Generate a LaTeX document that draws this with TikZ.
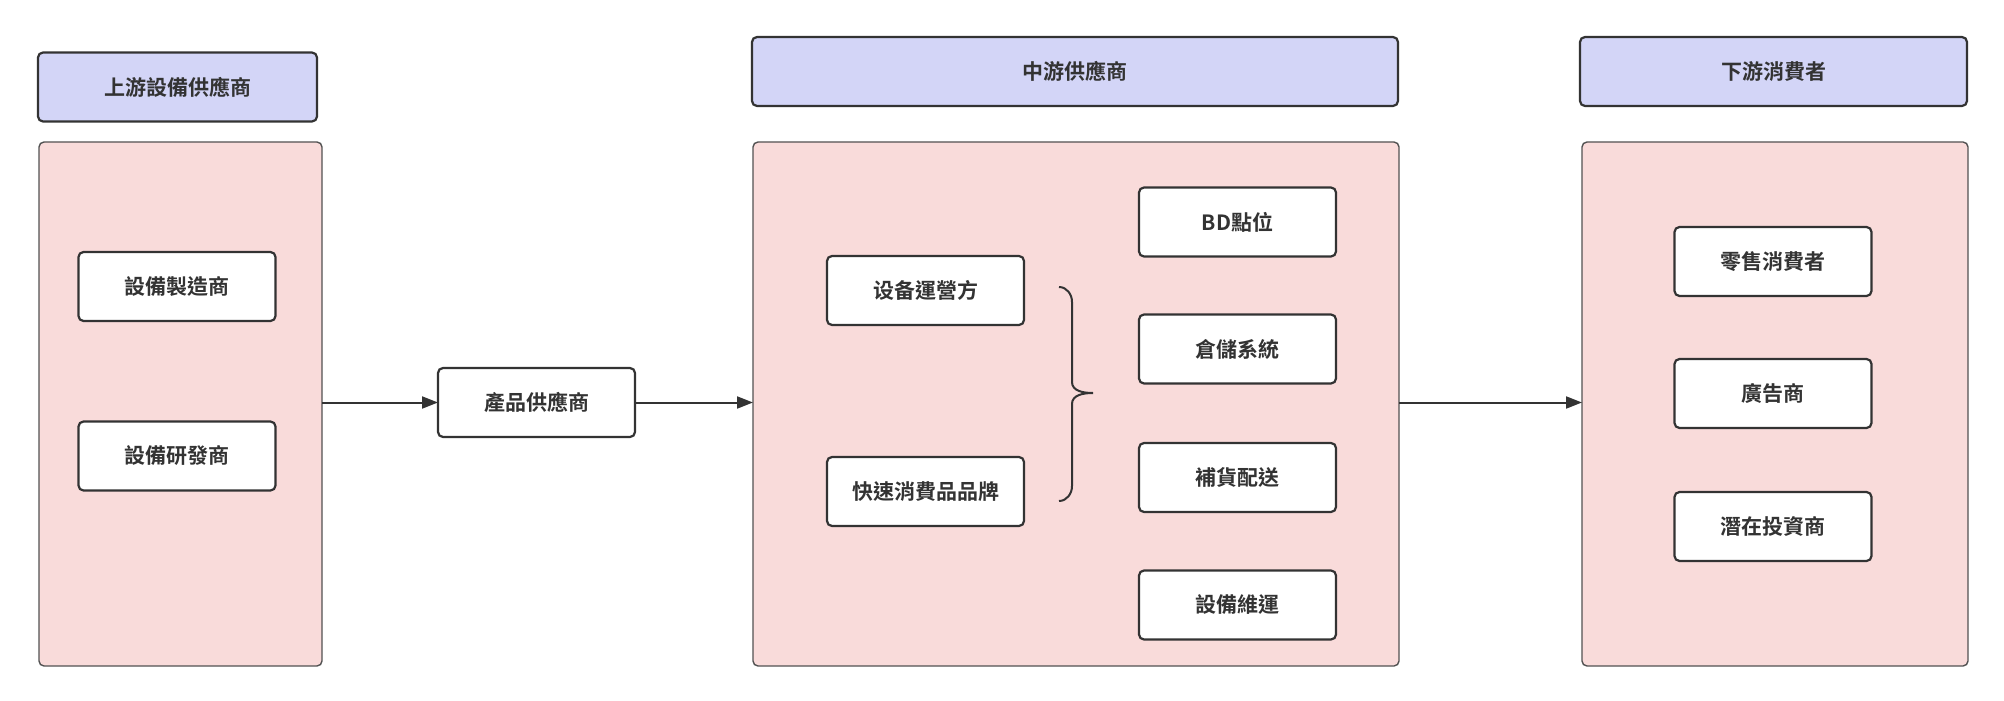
\documentclass[tikz,border=0pt]{standalone}
\usepackage{fontspec}
\setmainfont{Noto Sans CJK TC}[BoldFont={Noto Sans CJK TC Bold}]
\usetikzlibrary{arrows.meta}
\definecolor{hdrfill}{HTML}{D3D5F7}
\definecolor{pinkfill}{HTML}{F9DBDA}
\definecolor{edge}{HTML}{333333}
\definecolor{txt}{HTML}{333333}
\tikzset{
  base/.style={rectangle, rounded corners=2.5pt, inner sep=0pt, outer sep=0pt, text=txt,
    font=\fontsize{10.5pt}{12pt}\selectfont\bfseries},
  hdr/.style={base, draw=edge, line width=1.1pt, fill=hdrfill, minimum height=34.5pt},
  panel/.style={base, draw=edge!85, line width=0.7pt, fill=pinkfill, minimum height=262pt},
  item/.style={base, draw=edge, line width=1.1pt, fill=white, minimum width=98.5pt, minimum height=34.5pt},
  conn/.style={draw=edge, line width=1pt, -{Triangle[length=8pt,width=6pt]}},
}
\begin{document}
\begin{tikzpicture}[x=0.5pt,y=-0.5pt]
\useasboundingbox (0,0) rectangle (2004,701);
% headers
\node[hdr, minimum width=139.5pt] (h1) at (177.5,87) {上游設備供應商};
\node[hdr, minimum width=323pt] (h2) at (1075,71.5) {中游供應商};
\node[hdr, minimum width=193.5pt] (h3) at (1773.5,71.5) {下游消費者};
% panels
\node[panel, minimum width=141.5pt] (p1) at (180.5,404) {};
\node[panel, minimum width=323pt] (p2) at (1076,404) {};
\node[panel, minimum width=193pt] (p3) at (1775,404) {};
% left items
\node[item] (a1) at (177,286.5) {設備製造商};
\node[item] (a2) at (177,456) {設備研發商};
\node[item] (prod) at (536.5,402.5) {產品供應商};
% middle items
\node[item] (m1) at (925.5,290.5) {设备運營方};
\node[item] (m2) at (925.5,491.5) {快速消費品品牌};
\node[item] (r1) at (1237.5,222) {BD點位};
\node[item] (r2) at (1237.5,349) {倉儲系統};
\node[item] (r3) at (1237.5,477.5) {補貨配送};
\node[item] (r4) at (1237.5,605) {設備維運};
% right items
\node[item] (d1) at (1773,261.5) {零售消費者};
\node[item] (d2) at (1773,393.5) {廣告商};
\node[item] (d3) at (1773,526.5) {潛在投資商};
% brace
\draw[draw=edge, line width=1pt]
  (1059,287) to[out=0,in=90] (1072,302) -- (1072,382) to[out=-90,in=180] (1093,393)
  to[out=180,in=90] (1072,404) -- (1072,486) to[out=-90,in=0] (1059,501);
% connectors
\draw[conn] (p1.east |- prod.west) -- (prod.west);
\draw[conn] (prod.east) -- (prod.east -| p2.west);
\draw[conn] (p2.east |- prod.east) -- (p3.west |- prod.east);
\end{tikzpicture}
\end{document}
